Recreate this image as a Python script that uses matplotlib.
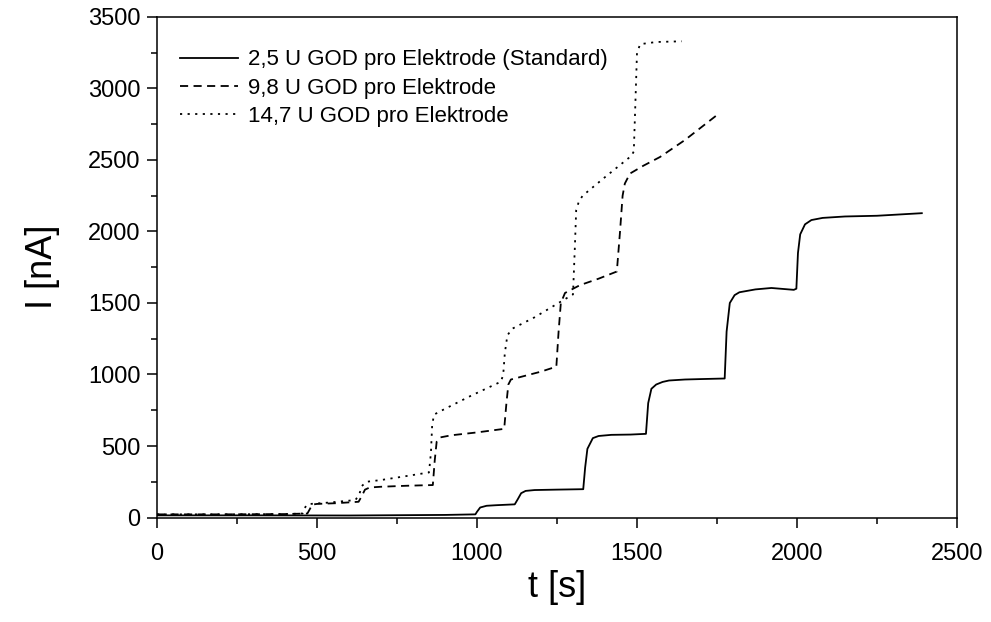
import matplotlib
matplotlib.use("Agg")
import matplotlib.pyplot as plt
from matplotlib.ticker import MultipleLocator

plt.rcParams["font.family"] = ["Liberation Sans", "DejaVu Sans"]

# 2,5 U GOD pro Elektrode (Standard)
t_std = [0, 300, 600, 900, 995, 1000, 1010, 1030, 1060, 1118, 1128, 1138, 1152, 1180,
         1250, 1332, 1338, 1345, 1362, 1380, 1420, 1480, 1528, 1535, 1545, 1560, 1580,
         1600, 1650, 1700, 1774, 1780, 1790, 1805, 1820, 1870, 1920,
         1990, 1998, 2003, 2010, 2025, 2045, 2080, 2150, 2250, 2390]
i_std = [15, 15, 14, 18, 22, 40, 70, 82, 86, 92, 130, 170, 186, 192,
         195, 198, 350, 480, 555, 570, 578, 580, 585, 800, 900, 930, 948,
         958, 965, 968, 972, 1300, 1500, 1555, 1575, 1595, 1605,
         1592, 1600, 1850, 1980, 2050, 2080, 2095, 2105, 2110, 2128]

# 9,8 U GOD pro Elektrode
t_98 = [0, 200, 400, 470, 478, 485, 500, 560, 630, 640, 650, 665, 700, 780, 862, 868,
        874, 885, 920, 1000, 1085, 1092, 1098, 1106, 1140, 1200, 1248, 1255, 1262,
        1275, 1322, 1380, 1437, 1447, 1455, 1462, 1478, 1520, 1572, 1650, 1759]
i_98 = [22, 22, 24, 28, 60, 90, 95, 100, 110, 150, 195, 210, 215, 222, 227, 400,
        530, 560, 575, 595, 620, 800, 930, 965, 985, 1020, 1055, 1300, 1500,
        1570, 1625, 1670, 1720, 2000, 2250, 2335, 2405, 2460, 2521, 2640, 2830]

# 14,7 U GOD pro Elektrode
t_147 = [0, 200, 400, 455, 460, 468, 480, 540, 620, 632, 640, 655, 700, 780, 850, 856,
         860, 866, 900, 980, 1075, 1082, 1087, 1095, 1110, 1180, 1260, 1300, 1306,
         1310, 1318, 1330, 1400, 1483, 1490, 1495, 1500, 1510, 1560, 1640]
i_147 = [22, 22, 24, 28, 60, 88, 95, 105, 122, 160, 220, 250, 262, 290, 315, 450,
         650, 720, 760, 850, 950, 1000, 1150, 1274, 1320, 1400, 1507, 1560, 1900,
         2150, 2207, 2250, 2380, 2530, 2560, 2900, 3250, 3310, 3325, 3330]

labels = ["2,5 U GOD pro Elektrode (Standard)",
          "9,8 U GOD pro Elektrode",
          "14,7 U GOD pro Elektrode"]

fig = plt.figure(figsize=(9.91, 6.22), dpi=100)
ax = fig.add_axes([0.1584, 0.168, 0.8073, 0.8047])

ax.plot(t_std, i_std, color="black", lw=1.3, linestyle="-", label=labels[0])
ax.plot(t_98, i_98, color="black", lw=1.3, linestyle=(0, (4.5, 3)), label=labels[1])
ax.plot(t_147, i_147, color="black", lw=1.3, linestyle=(0, (1.2, 3)), label=labels[2])

ax.set_xlim(0, 2500)
ax.set_ylim(0, 3500)
ax.xaxis.set_major_locator(MultipleLocator(500))
ax.xaxis.set_minor_locator(MultipleLocator(250))
ax.yaxis.set_major_locator(MultipleLocator(500))
ax.yaxis.set_minor_locator(MultipleLocator(250))
ax.tick_params(which="major", direction="out", length=7, width=1.1, labelsize=17, pad=5)
ax.tick_params(axis="x", which="major", pad=11)
ax.tick_params(which="minor", direction="out", length=4, width=1.1)
for s in ax.spines.values():
    s.set_linewidth(1.1)

ax.set_xlabel("t [s]", fontsize=26, labelpad=4)
ax.set_ylabel("I [nA]", fontsize=26, labelpad=20)

ax.legend(loc="upper left", bbox_to_anchor=(0.004, 0.975), frameon=False,
          fontsize=16, handlelength=2.6, handletextpad=0.45, labelspacing=0.33)

fig.savefig("out.png", dpi=100)
